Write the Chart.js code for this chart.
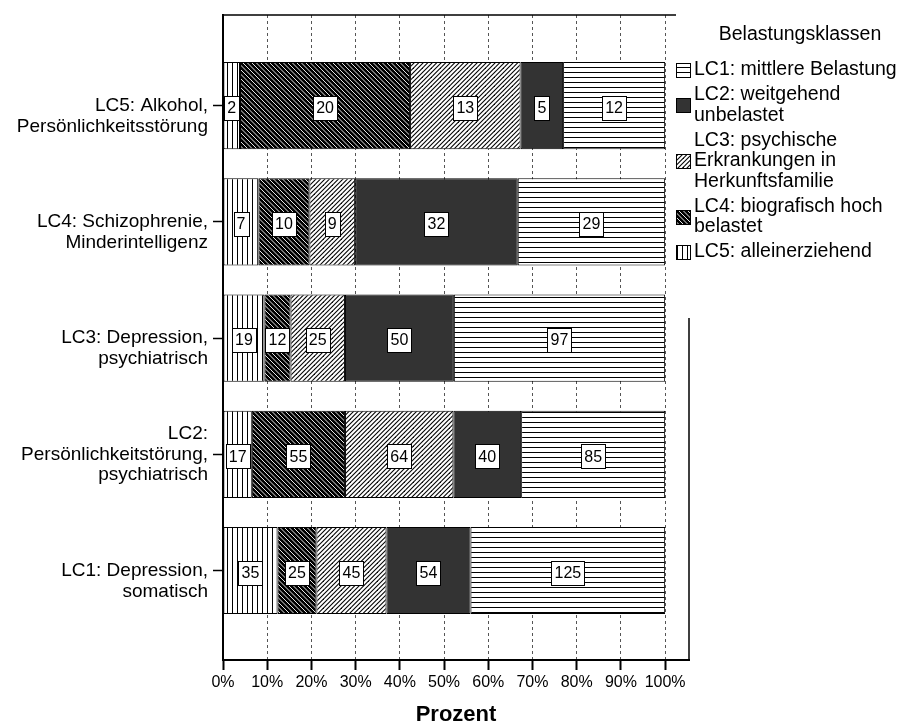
<!DOCTYPE html>
<html>
<head>
<meta charset="utf-8">
<script src="https://cdn.jsdelivr.net/npm/chart.js@4.4.1/dist/chart.umd.min.js"></script>
<style>
html,body{margin:0;padding:0;background:#fff;}
#wrap{width:906px;height:725px;position:relative;}
</style>
</head>
<body>
<div id="wrap"><canvas id="c" width="906" height="725"></canvas></div>
<script>
// ---------- data ----------
const rowLabels = [
  ['LC5: Alkohol,', 'Persönlichkeitsstörung'],
  ['LC4: Schizophrenie,', 'Minderintelligenz'],
  ['LC3: Depression,', 'psychiatrisch'],
  ['LC2:', 'Persönlichkeitstörung,', 'psychiatrisch'],
  ['LC1: Depression,', 'somatisch']
];
const seriesNames = ['LC5', 'LC4', 'LC3', 'LC2', 'LC1'];
const countsLC5 = [2, 7, 19, 17, 35];
const countsLC4 = [20, 10, 12, 55, 25];
const countsLC3 = [13, 9, 25, 64, 45];
const countsLC2 = [5, 32, 50, 40, 54];
const countsLC1 = [12, 29, 97, 85, 125];
const xTickValues = [0, 10, 20, 30, 40, 50, 60, 70, 80, 90, 100];
const legendTitle = 'Belastungsklassen';
const legendItems = [
  ['LC1: mittlere Belastung'],
  ['LC2: weitgehend', 'unbelastet'],
  ['LC3: psychische', 'Erkrankungen in', 'Herkunftsfamilie'],
  ['LC4: biografisch hoch', 'belastet'],
  ['LC5: alleinerziehend']
];
const legendSeries = ['LC1', 'LC2', 'LC3', 'LC4', 'LC5'];
const axisTitle = 'Prozent';

// ---------- styles ----------
const FONT = "'Liberation Sans', Arial, Helvetica, sans-serif";
Chart.defaults.font.family = FONT;
Chart.defaults.color = '#000';

function makePattern(kind) {
  const s = (kind === 'slash' || kind === 'back') ? 9 : 5;
  const c = document.createElement('canvas');
  c.width = s; c.height = s;
  const g = c.getContext('2d');
  if (kind === 'solid') {
    g.fillStyle = '#333333'; g.fillRect(0, 0, s, s);
  } else if (kind === 'vertical') {
    g.fillStyle = '#fff'; g.fillRect(0, 0, s, s);
    g.fillStyle = '#000'; g.fillRect(2, 0, 1, s);
  } else if (kind === 'horizontal') {
    g.fillStyle = '#fff'; g.fillRect(0, 0, s, s);
    g.fillStyle = '#000'; g.fillRect(0, 2, s, 1);
  } else if (kind === 'slash') {
    g.fillStyle = '#fff'; g.fillRect(0, 0, s, s);
    g.strokeStyle = '#000'; g.lineWidth = 1.1;
    [-9, -4.5, 0, 4.5, 9, 13.5, 18].forEach(cc => {
      g.beginPath(); g.moveTo(cc + 2, -2); g.lineTo(cc - 11, 11); g.stroke();
    });
  } else if (kind === 'back') {
    g.fillStyle = '#000'; g.fillRect(0, 0, s, s);
    g.strokeStyle = '#fff'; g.lineWidth = 0.9;
    [-13.5, -9, -4.5, 0, 4.5, 9, 13.5].forEach(d => {
      g.beginPath(); g.moveTo(d - 2, -2); g.lineTo(d + 11, 11); g.stroke();
    });
  }
  return g.createPattern(c, 'repeat');
}
const fills = {
  LC5: makePattern('vertical'),
  LC4: makePattern('back'),
  LC3: makePattern('slash'),
  LC2: makePattern('solid'),
  LC1: makePattern('horizontal')
};

const seriesCounts = [countsLC5, countsLC4, countsLC3, countsLC2, countsLC1];
const rowTotals = rowLabels.map((_, i) => seriesCounts.reduce((s, arr) => s + arr[i], 0));

const datasets = seriesCounts.map((arr, k) => ({
  label: seriesNames[k],
  counts: arr,
  data: arr.map((v, i) => ({ x: v / rowTotals[i] * 100, y: i })),
  backgroundColor: fills[seriesNames[k]],
  borderColor: '#000',
  borderWidth: 1,
  borderSkipped: false,
  barPercentage: 0.75,
  categoryPercentage: 1
}));

// value boxes in the middle of every segment
const boxLabels = {
  id: 'boxLabels',
  afterDatasetsDraw(chart) {
    const ctx = chart.ctx;
    ctx.save();
    ctx.font = '16px ' + FONT;
    ctx.textAlign = 'center';
    ctx.textBaseline = 'middle';
    chart.data.datasets.forEach((ds, di) => {
      const meta = chart.getDatasetMeta(di);
      meta.data.forEach((bar, i) => {
        const p = bar.getProps(['x', 'y', 'base'], true);
        const cx = (p.x + p.base) / 2, cy = p.y + 2;
        const t = String(ds.counts[i]);
        const w = Math.round(ctx.measureText(t).width + 6), h = 24;
        const lx = Math.round(cx - w / 2) + 0.5, ly = Math.round(cy - h / 2) + 0.5;
        ctx.fillStyle = '#fff';
        ctx.fillRect(lx, ly, w, h);
        ctx.strokeStyle = '#000'; ctx.lineWidth = 1;
        ctx.strokeRect(lx, ly, w, h);
        ctx.fillStyle = '#000';
        ctx.fillText(t, cx, cy + 1);
      });
    });
    ctx.restore();
  }
};

// frame (top/right) and legend
const frameLegend = {
  id: 'frameLegend',
  afterDraw(chart) {
    const { ctx, chartArea: a } = chart;
    ctx.save();
    ctx.strokeStyle = '#000'; ctx.lineWidth = 1.5;
    ctx.beginPath();
    ctx.moveTo(a.left, a.top); ctx.lineTo(a.right, a.top); ctx.lineTo(a.right, a.bottom);
    ctx.stroke();
    // legend panel
    ctx.fillStyle = '#fff';
    ctx.fillRect(676, 0, 906 - 676, 318);
    ctx.fillStyle = '#000';
    ctx.font = '19.5px ' + FONT;
    ctx.textBaseline = 'middle';
    ctx.textAlign = 'center';
    ctx.fillText(legendTitle, 800, 35);
    ctx.textAlign = 'left';
    const lh = 20.5, gap = 25;
    let y = 70;
    legendItems.forEach((lines, k) => {
      const mid = y + (lines.length - 1) * lh / 2;
      const sw = 14;
      ctx.fillStyle = fills[legendSeries[k]];
      ctx.fillRect(676.5, Math.round(mid - sw / 2) + 0.5, sw, sw);
      ctx.strokeStyle = '#000'; ctx.lineWidth = 1;
      ctx.strokeRect(676.5, Math.round(mid - sw / 2) + 0.5, sw, sw);
      ctx.fillStyle = '#000';
      lines.forEach((ln, j) => ctx.fillText(ln, 694, y + j * lh));
      y += (lines.length - 1) * lh + gap;
    });
    ctx.restore();
  }
};

new Chart(document.getElementById('c'), {
  type: 'bar',
  data: { datasets },
  options: {
    indexAxis: 'y',
    responsive: false,
    animation: false,
    devicePixelRatio: 1,
    layout: { padding: { left: 0, right: 217, top: 15, bottom: 0 } },
    plugins: { legend: { display: false }, tooltip: { enabled: false } },
    scales: {
      x: {
        type: 'linear',
        stacked: true,
        min: 0,
        max: 105.4,
        afterBuildTicks(s) { s.ticks = xTickValues.map(v => ({ value: v })); },
        afterFit(s) { s.height = 65; s.paddingLeft = 0; s.paddingRight = 0; },
        ticks: {
          stepSize: 10, includeBounds: false, autoSkip: false, maxRotation: 0,
          font: { size: 16 }, color: '#000', padding: 3,
          callback: v => v + '%'
        },
        grid: {
          color: '#555555', lineWidth: 1, drawOnChartArea: true, drawTicks: true,
          tickLength: 10, tickColor: '#000', tickWidth: 2
        },
        border: { display: true, color: '#000', width: 2, dash: [3, 3] },
        title: {
          display: true, text: axisTitle, color: '#000',
          font: { size: 22, weight: 'bold', lineHeight: 0.9 }, padding: 0
        }
      },
      y: {
        type: 'linear',
        stacked: true,
        reverse: true,
        offset: false,
        min: -0.78,
        max: 4.77,
        afterBuildTicks(s) { s.ticks = rowLabels.map((_, i) => ({ value: i })); },
        afterFit(s) { s.width = 223; s.paddingTop = 0; s.paddingBottom = 0; },
        ticks: {
          stepSize: 1, includeBounds: false, autoSkip: false,
          font: { size: 19, lineHeight: 1.1 }, color: '#000', padding: 5,
          callback: v => {
            const lab = rowLabels[v];
            if (!lab) return '';
            return lab.length === 2 ? [''].concat(lab) : lab;
          }
        },
        grid: {
          offset: false,
          drawOnChartArea: false, drawTicks: true, tickLength: 10,
          tickColor: '#000', tickWidth: 1.5
        },
        border: { display: true, color: '#000', width: 2 }
      }
    }
  },
  plugins: [boxLabels, frameLegend]
});
</script>
</body>
</html>
